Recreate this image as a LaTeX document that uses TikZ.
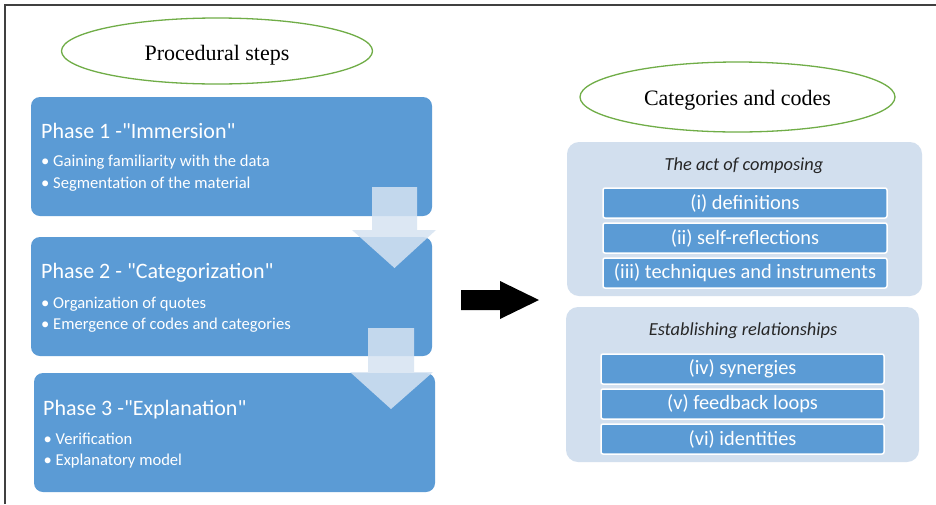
\documentclass[tikz,border=0pt]{standalone}
\usepackage{fontspec}
\setmainfont{Liberation Serif}
\newfontfamily\calfont{Carlito}
\usetikzlibrary{shapes.geometric}
\definecolor{phaseblue}{HTML}{5B9BD5}
\definecolor{grpblue}{HTML}{D2DFEE}
\definecolor{arrowblue}{HTML}{D6E3F2}
\definecolor{ellgreen}{HTML}{70AD47}
\definecolor{framegray}{HTML}{404040}
\definecolor{headtext}{HTML}{262626}
\begin{document}
\begin{tikzpicture}[x=1pt,y=-1pt,
  phasebox/.style={fill=phaseblue, rounded corners=9pt, inner sep=0pt, outer sep=0pt, anchor=north west, minimum width=401pt, minimum height=119pt},
  grpbox/.style={fill=grpblue, rounded corners=12pt, inner sep=0pt, outer sep=0pt, anchor=north west},
  itembox/.style={fill=phaseblue, draw=white, line width=1.5pt, rounded corners=2pt, inner sep=0pt, outer sep=0pt, anchor=north west, minimum width=284pt, minimum height=30pt, text=white, font=\calfont\fontsize{20.4}{22}\selectfont},
  ell/.style={ellipse, draw=ellgreen, line width=1.3pt, inner sep=0pt},
  elltext/.style={anchor=base, inner sep=0pt, font=\fontsize{22}{24}\selectfont},
  titletext/.style={anchor=base west, inner sep=0pt, text=white, font=\calfont\fontsize{22}{24}\selectfont},
  bullettext/.style={anchor=base west, inner sep=0pt, text=white, font=\calfont\fontsize{16.6}{19}\selectfont},
  grptext/.style={anchor=base, inner sep=0pt, text=headtext, font=\calfont\itshape\fontsize{18.4}{21}\selectfont},
  lightarrow/.style={fill=arrowblue, fill opacity=0.85},
  bigarrow/.style={fill=black}
]
\useasboundingbox (0,0) rectangle (936,504);
\fill[white] (0,0) rectangle (936,504);
% frame
\draw[framegray, line width=1.5pt] (5,504) -- (5,5) -- (936,5);

% left ellipse
\node[ell, minimum width=311pt, minimum height=66pt] (e1) at (217,51) {};
\node[elltext] (e1t) at (217,60) {Procedural steps};

% phase boxes
\node[phasebox] (p1) at (31,97) {};
\node[phasebox] (p2) at (31,237) {};
\node[phasebox] (p3) at (34,373) {};

\node[titletext] (p1t) at (41,138) {Phase 1 -"Immersion"};
\node[bullettext] (p1a) at (41,166.5) {\makebox[12pt][l]{\textbullet}Gaining familiarity with the data};
\node[bullettext] (p1b) at (41,188) {\makebox[12pt][l]{\textbullet}Segmentation of the material};

\node[titletext] (p2t) at (41,278) {Phase 2 - "Categorization"};
\node[bullettext] (p2a) at (41,308) {\makebox[12pt][l]{\textbullet}Organization of quotes};
\node[bullettext] (p2b) at (41,329) {\makebox[12pt][l]{\textbullet}Emergence of codes and categories};

\node[titletext] (p3t) at (43,415) {Phase 3 -"Explanation"};
\node[bullettext] (p3a) at (43.5,444) {\makebox[12pt][l]{\textbullet}Verification};
\node[bullettext] (p3b) at (43.5,465) {\makebox[12pt][l]{\textbullet}Explanatory model};

% light arrows
\fill[lightarrow] (372,187) -- (417,187) -- (417,230) -- (436,230) -- (394.5,268) -- (352,230) -- (372,230) -- cycle;
\fill[lightarrow] (368,328) -- (414,328) -- (414,372) -- (433,372) -- (391,409) -- (350,372) -- (368,372) -- cycle;

% big black arrow
\fill[bigarrow] (461,290) -- (500,290) -- (500,281) -- (539,300) -- (500,319) -- (500,310) -- (461,310) -- cycle;

% right ellipse
\node[ell, minimum width=315pt, minimum height=70pt] (e2) at (737.5,97) {};
\node[elltext] (e2t) at (737.5,105) {Categories and codes};

% group 1
\node[grpbox, minimum width=355pt, minimum height=154pt] (g1) at (567,142) {};
\node[grptext] (g1t) at (744,170) {The act of composing};
\node[itembox] (i1) at (603,188) {(i) definitions};
\node[itembox] (i2) at (603,223) {(ii) self-reflections};
\node[itembox] (i3) at (603,258) {(iii) techniques and instruments};

% group 2
\node[grpbox, minimum width=353pt, minimum height=155pt] (g2) at (566,307) {};
\node[grptext] (g2t) at (743,335) {Establishing relationships};
\node[itembox, minimum width=283pt] (i4) at (601,354) {(iv) synergies};
\node[itembox, minimum width=283pt] (i5) at (601,389) {(v) feedback loops};
\node[itembox, minimum width=283pt] (i6) at (601,424) {(vi) identities};
\end{tikzpicture}
\end{document}
